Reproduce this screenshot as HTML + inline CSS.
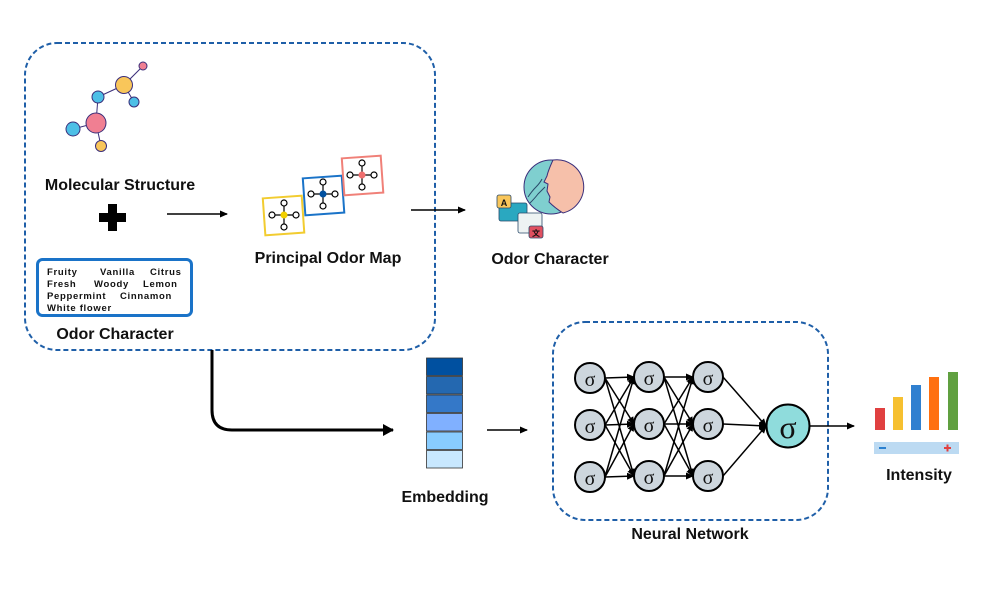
<!DOCTYPE html>
<html><head><meta charset="utf-8"><style>
body{margin:0;background:#fff}
svg{display:block}
text{font-family:"Liberation Sans","DejaVu Sans",sans-serif;font-weight:bold;fill:#111}
</style></head><body>
<svg width="996" height="589" viewBox="0 0 996 589" xmlns="http://www.w3.org/2000/svg">
<defs>
<marker id="ah" markerWidth="8" markerHeight="8" refX="7" refY="4" orient="auto" markerUnits="userSpaceOnUse"><path d="M0,0.5 L8,4 L0,7.5 Z" fill="#000"/></marker>
<marker id="ah2" markerWidth="12" markerHeight="12" refX="10" refY="6" orient="auto" markerUnits="userSpaceOnUse"><path d="M0,0 L11,6 L0,12 Z" fill="#000"/></marker>
</defs>
<rect x="25" y="43" width="410" height="307" rx="32" fill="none" stroke="#1f5fa8" stroke-width="2" stroke-dasharray="5,3"/>
<g stroke="#3a2e7a" stroke-width="1">
<line x1="96" y1="123" x2="73" y2="129"/><line x1="96" y1="123" x2="101" y2="146"/><line x1="96" y1="123" x2="98" y2="97"/>
<line x1="98" y1="97" x2="124" y2="85"/><line x1="124" y1="85" x2="134" y2="102"/><line x1="124" y1="85" x2="143" y2="66"/>
<circle cx="96" cy="123" r="10" fill="#f07f92"/>
<circle cx="73" cy="129" r="7" fill="#4dbfe6"/>
<circle cx="101" cy="146" r="5.5" fill="#f9c65a"/>
<circle cx="98" cy="97" r="6" fill="#4dbfe6"/>
<circle cx="124" cy="85" r="8.5" fill="#f9c65a"/>
<circle cx="134" cy="102" r="5" fill="#4dbfe6"/>
<circle cx="143" cy="66" r="4" fill="#f07f92"/>
</g>
<text x="120" y="190" font-size="16" text-anchor="middle">Molecular Structure</text>
<path d="M108,204 h9 v9 h9 v9 h-9 v9 h-9 v-9 h-9 v-9 h9 z" fill="#000"/>
<line x1="167" y1="214" x2="227" y2="214" stroke="#000" stroke-width="1.5" marker-end="url(#ah)"/>
<rect x="37.5" y="259.5" width="154" height="56" rx="5" fill="none" stroke="#1a73c8" stroke-width="3"/>
<g font-size="9.5" letter-spacing="0.7">
<text x="47" y="275">Fruity</text><text x="100" y="275">Vanilla</text><text x="150" y="275">Citrus</text>
<text x="47" y="287">Fresh</text><text x="94" y="287">Woody</text><text x="143" y="287">Lemon</text>
<text x="47" y="299">Peppermint</text><text x="120" y="299">Cinnamon</text>
<text x="47" y="311">White flower</text>
</g>
<text x="115" y="339" font-size="16" text-anchor="middle">Odor Character</text>
<g stroke-width="2" fill="#fff">
<rect x="264" y="197" width="39" height="37" stroke="#f2cc30" transform="rotate(-4 283 215)"/>
<rect x="304" y="177" width="39" height="37" stroke="#1a73c8" transform="rotate(-4 323 195)"/>
<rect x="343" y="157" width="39" height="37" stroke="#f08078" transform="rotate(-4 362 175)"/>
</g>
<g stroke="#000" stroke-width="1.2" fill="#fff">
<g transform="translate(284,215)"><line x1="-12" y1="0" x2="12" y2="0"/><line x1="0" y1="-12" x2="0" y2="12"/><circle cx="-12" cy="0" r="3"/><circle cx="12" cy="0" r="3"/><circle cx="0" cy="-12" r="3"/><circle cx="0" cy="12" r="3"/><circle r="3.5" fill="#f2d000" stroke="none"/></g>
<g transform="translate(323,194)"><line x1="-12" y1="0" x2="12" y2="0"/><line x1="0" y1="-12" x2="0" y2="12"/><circle cx="-12" cy="0" r="3"/><circle cx="12" cy="0" r="3"/><circle cx="0" cy="-12" r="3"/><circle cx="0" cy="12" r="3"/><circle r="3.5" fill="#0050a0" stroke="none"/></g>
<g transform="translate(362,175)"><line x1="-12" y1="0" x2="12" y2="0"/><line x1="0" y1="-12" x2="0" y2="12"/><circle cx="-12" cy="0" r="3"/><circle cx="12" cy="0" r="3"/><circle cx="0" cy="-12" r="3"/><circle cx="0" cy="12" r="3"/><circle r="3.5" fill="#f07070" stroke="none"/></g>
</g>
<text x="328" y="263" font-size="16" text-anchor="middle">Principal Odor Map</text>
<line x1="411" y1="210" x2="465" y2="210" stroke="#000" stroke-width="1.5" marker-end="url(#ah)"/>
<circle cx="551" cy="187" r="27" fill="#7fcfcf" stroke="#3a2e7a" stroke-width="1"/>
<path d="M553,160 Q548,171 547,176 L544,182 L548,184 L547,191 L550,197 L549,202 Q555,208 563,213 A27,27 0 0 0 553,160 Z" fill="#f6c0aa" stroke="#3a2e7a" stroke-width="1"/>
<path d="M528,197 q4,-6 8,-10 q4,-4 6,-8 M530,203 q5,-5 8,-9 q4,-4 7,-7" fill="none" stroke="#2a4a6a" stroke-width="1"/>
<rect x="499" y="203" width="28" height="18" rx="2" fill="#2aa8c0" stroke="#2a4a6a" stroke-width="0.8"/>
<rect x="497" y="195" width="14" height="13" rx="2" fill="#f9c65a" stroke="#2a4a6a" stroke-width="0.8"/>
<text x="504" y="206" font-size="9" text-anchor="middle" font-weight="normal">A</text>
<rect x="518" y="213" width="24" height="20" rx="2" fill="#eef3f3" stroke="#2a4a6a" stroke-width="0.8"/>
<rect x="529" y="226" width="14" height="12" rx="2" fill="#e05060" stroke="#2a4a6a" stroke-width="0.8"/>
<text x="536" y="236" font-size="8" text-anchor="middle" font-weight="normal" style="font-family:'Noto Sans CJK SC',sans-serif">文</text>
<text x="550" y="264" font-size="16" text-anchor="middle">Odor Character</text>
<path d="M212,350 V410 Q212,430 232,430 H393" fill="none" stroke="#000" stroke-width="3" marker-end="url(#ah2)"/>
<g stroke="#333" stroke-width="0.8">
<rect x="426.5" y="358" width="36" height="17.5" fill="#0050a0"/>
<rect x="426.5" y="376.5" width="36" height="17.5" fill="#2468b0"/>
<rect x="426.5" y="395" width="36" height="17.5" fill="#3478c8"/>
<rect x="426.5" y="413.5" width="36" height="17.5" fill="#80b0ff"/>
<rect x="426.5" y="432" width="36" height="17.5" fill="#88ccff"/>
<rect x="426.5" y="450.5" width="36" height="17.5" fill="#c8e8ff"/>
</g>
<text x="445" y="502" font-size="16" text-anchor="middle">Embedding</text>
<line x1="487" y1="430" x2="527" y2="430" stroke="#000" stroke-width="1.5" marker-end="url(#ah)"/>
<rect x="553" y="322" width="275" height="198" rx="32" fill="none" stroke="#1f5fa8" stroke-width="2" stroke-dasharray="5,3"/>
<g stroke="#000" stroke-width="1.5">
<g marker-end="url(#ah)">
<line x1="605" y1="378" x2="634" y2="377"/><line x1="605" y1="378" x2="634" y2="424"/><line x1="605" y1="378" x2="634" y2="476"/>
<line x1="605" y1="425" x2="634" y2="377"/><line x1="605" y1="425" x2="634" y2="424"/><line x1="605" y1="425" x2="634" y2="476"/>
<line x1="605" y1="477" x2="634" y2="377"/><line x1="605" y1="477" x2="634" y2="424"/><line x1="605" y1="477" x2="634" y2="476"/>
<line x1="664" y1="377" x2="693" y2="377"/><line x1="664" y1="377" x2="693" y2="424"/><line x1="664" y1="377" x2="693" y2="476"/>
<line x1="664" y1="424" x2="693" y2="377"/><line x1="664" y1="424" x2="693" y2="424"/><line x1="664" y1="424" x2="693" y2="476"/>
<line x1="664" y1="476" x2="693" y2="377"/><line x1="664" y1="476" x2="693" y2="424"/><line x1="664" y1="476" x2="693" y2="476"/>
<line x1="723" y1="377" x2="766" y2="426"/><line x1="723" y1="424" x2="766" y2="426"/><line x1="723" y1="476" x2="766" y2="426"/>
<line x1="810" y1="426" x2="854" y2="426"/>
</g>
<g fill="#cdd6dd" stroke-width="2">
<circle cx="590" cy="378" r="15"/><circle cx="590" cy="425" r="15"/><circle cx="590" cy="477" r="15"/>
<circle cx="649" cy="377" r="15"/><circle cx="649" cy="424" r="15"/><circle cx="649" cy="476" r="15"/>
<circle cx="708" cy="377" r="15"/><circle cx="708" cy="424" r="15"/><circle cx="708" cy="476" r="15"/>
</g>
<circle cx="788" cy="426" r="21.5" fill="#8fdcdc" stroke-width="2"/>
</g>
<g text-anchor="middle" style="font-family:'Liberation Serif',serif;font-weight:normal">
<text x="590" y="386" font-size="20" style="font-family:'Liberation Serif',serif;font-weight:normal">σ</text>
<text x="590" y="433" font-size="20" style="font-family:'Liberation Serif',serif;font-weight:normal">σ</text>
<text x="590" y="485" font-size="20" style="font-family:'Liberation Serif',serif;font-weight:normal">σ</text>
<text x="649" y="385" font-size="20" style="font-family:'Liberation Serif',serif;font-weight:normal">σ</text>
<text x="649" y="432" font-size="20" style="font-family:'Liberation Serif',serif;font-weight:normal">σ</text>
<text x="649" y="484" font-size="20" style="font-family:'Liberation Serif',serif;font-weight:normal">σ</text>
<text x="708" y="385" font-size="20" style="font-family:'Liberation Serif',serif;font-weight:normal">σ</text>
<text x="708" y="432" font-size="20" style="font-family:'Liberation Serif',serif;font-weight:normal">σ</text>
<text x="708" y="484" font-size="20" style="font-family:'Liberation Serif',serif;font-weight:normal">σ</text>
<text x="788" y="438" font-size="32" style="font-family:'Liberation Serif',serif;font-weight:normal">σ</text>
</g>
<text x="690" y="539" font-size="16" text-anchor="middle">Neural Network</text>
<rect x="875" y="408" width="10" height="22" fill="#e04040"/>
<rect x="893" y="397" width="10" height="33" fill="#f6c030"/>
<rect x="911" y="385" width="10" height="45" fill="#3080d0"/>
<rect x="929" y="377" width="10" height="53" fill="#ff7010"/>
<rect x="948" y="372" width="10" height="58" fill="#60a040"/>
<rect x="874" y="442" width="85" height="12" fill="#bcdaf2"/>
<rect x="879" y="447" width="7" height="2" fill="#2a80d0"/>
<path d="M944,448 h7 M947.5,444.5 v7" stroke="#e04040" stroke-width="2"/>
<text x="919" y="480" font-size="16" text-anchor="middle">Intensity</text>
</svg>
</body></html>
